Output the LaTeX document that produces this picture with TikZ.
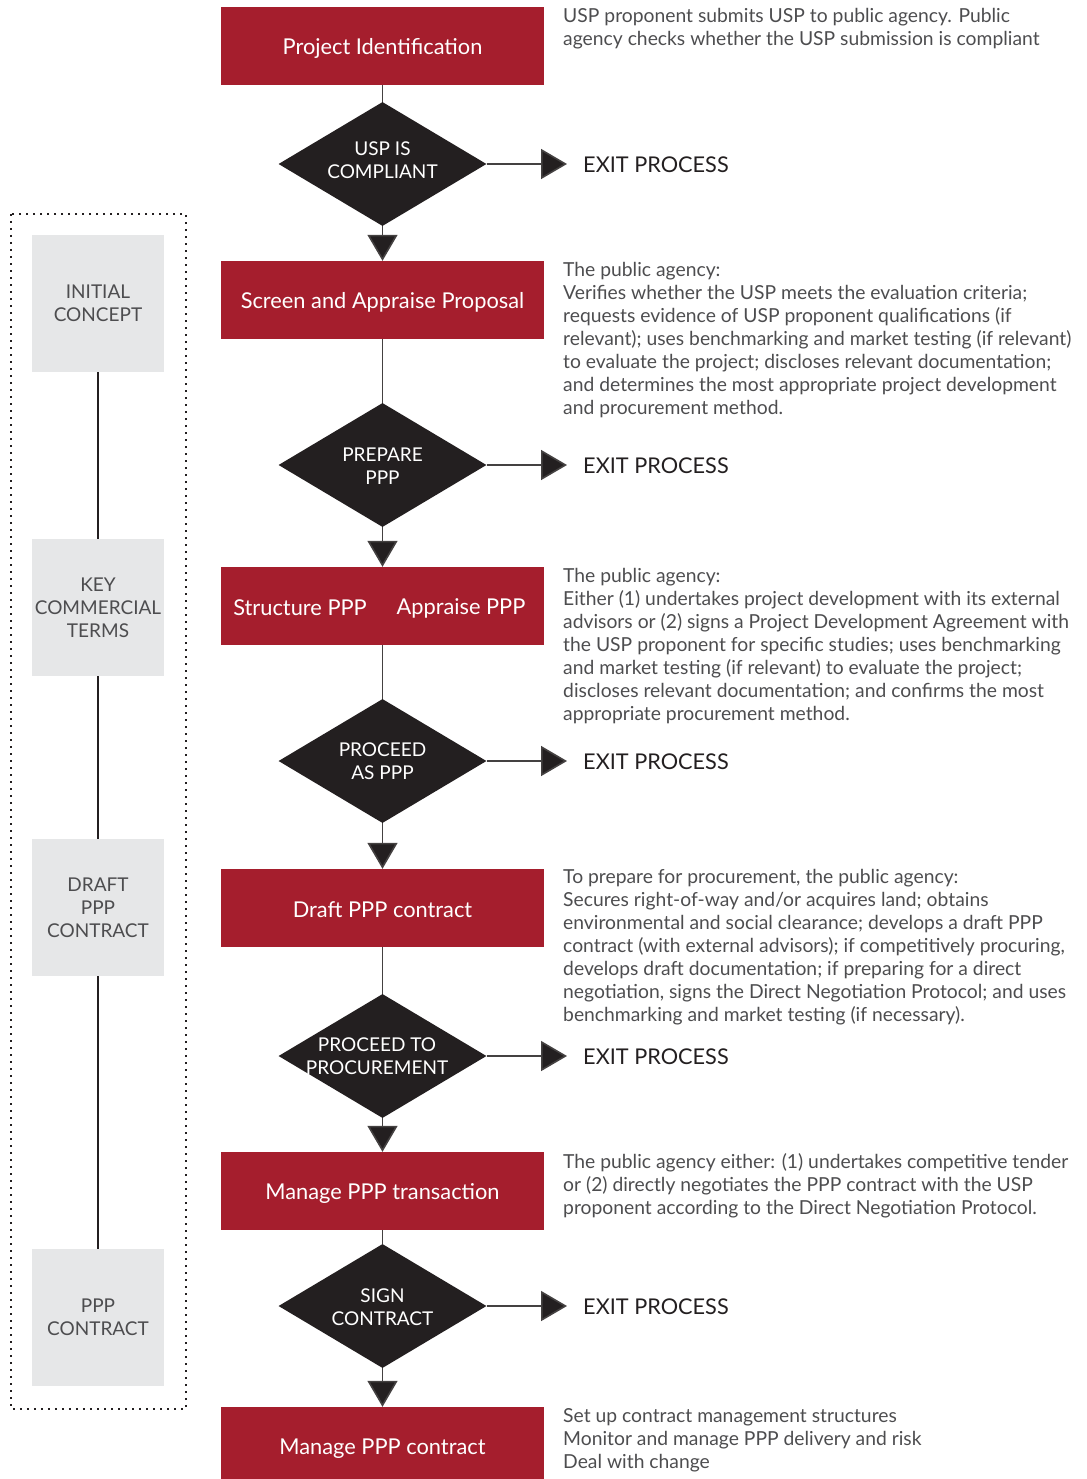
\documentclass[tikz,border=0pt]{standalone}
\usepackage{fontspec}
\setmainfont{Lato}
\usetikzlibrary{arrows.meta,shapes.geometric}
\definecolor{pppred}{HTML}{A51E2D}
\definecolor{dgray}{HTML}{231F20}
\definecolor{lgray}{HTML}{E6E7E8}
\definecolor{tgray}{HTML}{4D4D4F}
\tikzset{
  redfont/.style={text=white, font=\fontsize{21.8}{26}\selectfont},
  redbox/.style={fill=pppred, draw=none, minimum width=323pt, minimum height=78pt, inner sep=0pt, redfont},
  dia/.style={diamond, fill=dgray, draw=none, minimum width=208pt, minimum height=124pt, inner sep=0pt, aspect=1.68},
  diatext/.style={text=white, align=center, inner sep=0pt, font=\fontsize{19}{23}\selectfont},
  graybox/.style={fill=lgray, draw=none, minimum width=132pt, minimum height=137pt, inner sep=0pt,
    text=tgray, align=center, font=\fontsize{19}{23}\selectfont},
  desc/.style={anchor=north west, align=left, inner sep=0pt, text=tgray, font=\fontsize{19.3}{23}\selectfont},
  exitt/.style={anchor=west, inner xsep=16pt, inner ysep=0pt, text=dgray, font=\fontsize{21.7}{25}\selectfont},
  plain/.style={draw=dgray!85, line width=1.6pt},
  darr/.style={plain, -{Triangle[length=26pt,width=30pt,fill=dgray]}},
  vline/.style={draw=dgray, line width=2pt},
}
\begin{document}
\begin{tikzpicture}[x=1pt,y=-1pt]
\useasboundingbox (0,0) rectangle (1086,1479);
% left panel
\draw[dgray, line width=2pt, dash pattern=on 2pt off 5pt] (11,214) rectangle (186,1409);
\node[graybox] (g1) at (98,303.5) {INITIAL\\CONCEPT};
\node[graybox] (g2) at (98,607.5) {KEY\\COMMERCIAL\\TERMS};
\node[graybox] (g3) at (98,907.5) {DRAFT\\PPP\\CONTRACT};
\node[graybox] (g4) at (98,1317.5) {PPP\\CONTRACT};
\draw[vline] (g1.south) -- (g2.north);
\draw[vline] (g2.south) -- (g3.north);
\draw[vline] (g3.south) -- (g4.north);
% red boxes
\node[redbox] (b1) at (382.5,46) {};
\node[redfont, inner sep=0pt] (b1t) at (382.5,48) {Project Identification};
\node[redbox] (b2) at (382.5,300) {};
\node[redfont, inner sep=0pt] (b2t) at (382.5,302) {Screen and Appraise Proposal};
\node[redbox] (b3) at (382.5,606) {};
\node[redfont, inner sep=0pt] (b3a) at (300,608) {Structure PPP};
\node[redfont, inner sep=0pt] (b3b) at (461,608) {Appraise PPP};
\node[redbox] (b4) at (382.5,908) {};
\node[redfont, inner sep=0pt] (b4t) at (382.5,910) {Draft PPP contract};
\node[redbox] (b5) at (382.5,1191) {};
\node[redfont, inner sep=0pt] (b5t) at (382.5,1193) {Manage PPP transaction};
\node[redbox, minimum height=72pt] (b6) at (382.5,1443) {};
\node[redfont, inner sep=0pt] (b6t) at (382.5,1449) {Manage PPP contract};
% diamonds
\node[dia] (d1) at (382.5,164) {};
\node[diatext] (t1) at (382.5,160) {USP IS\\COMPLIANT};
\node[dia] (d2) at (382.5,465) {};
\node[diatext] (t2) at (382.5,466) {PREPARE\\PPP};
\node[dia] (d3) at (382.5,761) {};
\node[diatext] (t3) at (382.5,761) {PROCEED\\AS PPP};
\node[dia] (d4) at (382.5,1056) {};
\node[diatext] (t4) at (377,1056) {PROCEED TO\\PROCUREMENT};
\node[dia] (d5) at (382.5,1306) {};
\node[diatext] (t5) at (382.5,1307) {SIGN\\CONTRACT};
% exits
\node[exitt] (e1) at (567,165) {EXIT PROCESS};
\node[exitt] (e2) at (567,466) {EXIT PROCESS};
\node[exitt] (e3) at (567,762) {EXIT PROCESS};
\node[exitt] (e4) at (567,1057) {EXIT PROCESS};
\node[exitt] (e5) at (567,1307) {EXIT PROCESS};
% connectors
\draw[plain] (b1.south) -- (d1.north);
\draw[plain] (b2.south) -- (d2.north);
\draw[plain] (b3.south) -- (d3.north);
\draw[plain] (b4.south) -- (d4.north);
\draw[plain] (b5.south) -- (d5.north);
\draw[darr] (d1.south) -- (b2.north);
\draw[darr] (d2.south) -- (b3.north);
\draw[darr] (d3.south) -- (b4.north);
\draw[darr] (d4.south) -- (b5.north);
\draw[darr] (d5.south) -- (b6.north);
\draw[darr] (d1.east) -- (d1.east -| e1.west);
\draw[darr] (d2.east) -- (d2.east -| e2.west);
\draw[darr] (d3.east) -- (d3.east -| e3.west);
\draw[darr] (d4.east) -- (d4.east -| e4.west);
\draw[darr] (d5.east) -- (d5.east -| e5.west);
% descriptions
\node[desc] (x1) at (563,8.5) {USP proponent submits USP to public agency. Public\\agency checks whether the USP submission is compliant};
\node[desc] (x2) at (563,262.5) {The public agency:\\Verifies whether the USP meets the evaluation criteria;\\requests evidence of USP proponent qualifications (if\\relevant); uses benchmarking and market testing (if relevant)\\to evaluate the project; discloses relevant documentation;\\and determines the most appropriate project development\\and procurement method.};
\node[desc] (x3) at (563,568.5) {The public agency:\\Either (1) undertakes project development with its external\\advisors or (2) signs a Project Development Agreement with\\the USP proponent for specific studies; uses benchmarking\\and market testing (if relevant) to evaluate the project;\\discloses relevant documentation; and confirms the most\\appropriate procurement method.};
\node[desc] (x4) at (563,869.5) {To prepare for procurement, the public agency:\\Secures right-of-way and/or acquires land; obtains\\environmental and social clearance; develops a draft PPP\\contract (with external advisors); if competitively procuring,\\develops draft documentation; if preparing for a direct\\negotiation, signs the Direct Negotiation Protocol; and uses\\benchmarking and market testing (if necessary).};
\node[desc] (x5) at (563,1153.5) {The public agency either: (1) undertakes competitive tender\\or (2) directly negotiates the PPP contract with the USP\\proponent according to the Direct Negotiation Protocol.};
\node[desc] (x6) at (563,1408.5) {Set up contract management structures\\Monitor and manage PPP delivery and risk\\Deal with change};
\end{tikzpicture}
\end{document}
